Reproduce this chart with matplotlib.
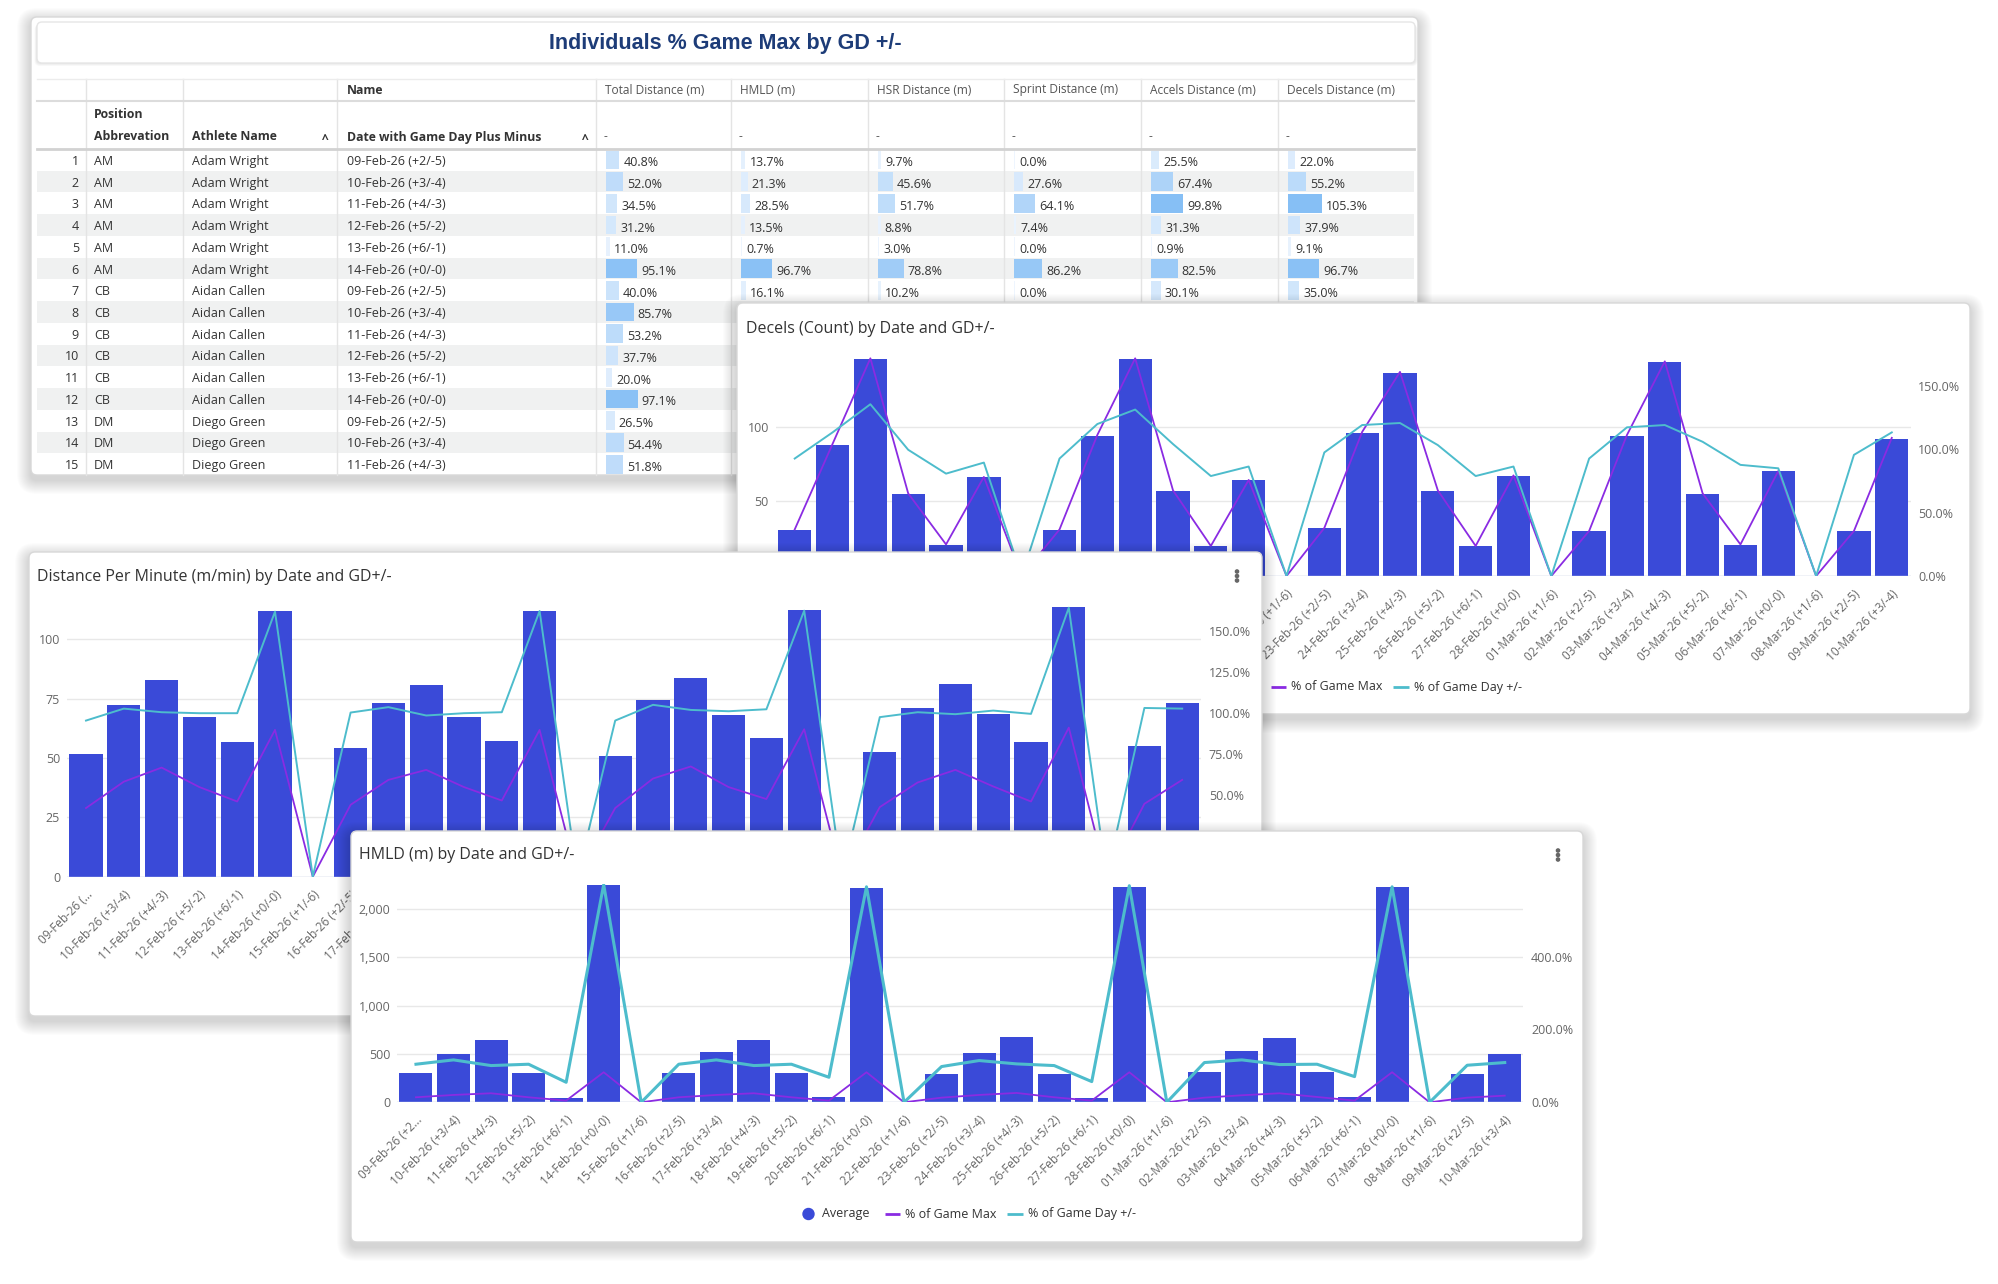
import numpy as np
import matplotlib
matplotlib.use('Agg')
import matplotlib.pyplot as plt
from matplotlib.patches import FancyBboxPatch, Rectangle, Circle
from matplotlib.ticker import FuncFormatter

plt.rcParams['font.family'] = ['Open Sans', 'DejaVu Sans']

W, H, DPI = 1999, 1284, 100

# ---------------- data ----------------
dates = ['09-Feb-26 (+2/-5)', '10-Feb-26 (+3/-4)', '11-Feb-26 (+4/-3)', '12-Feb-26 (+5/-2)',
         '13-Feb-26 (+6/-1)', '14-Feb-26 (+0/-0)', '15-Feb-26 (+1/-6)', '16-Feb-26 (+2/-5)',
         '17-Feb-26 (+3/-4)', '18-Feb-26 (+4/-3)', '19-Feb-26 (+5/-2)', '20-Feb-26 (+6/-1)',
         '21-Feb-26 (+0/-0)', '22-Feb-26 (+1/-6)', '23-Feb-26 (+2/-5)', '24-Feb-26 (+3/-4)',
         '25-Feb-26 (+4/-3)', '26-Feb-26 (+5/-2)', '27-Feb-26 (+6/-1)', '28-Feb-26 (+0/-0)',
         '01-Mar-26 (+1/-6)', '02-Mar-26 (+2/-5)', '03-Mar-26 (+3/-4)', '04-Mar-26 (+4/-3)',
         '05-Mar-26 (+5/-2)', '06-Mar-26 (+6/-1)', '07-Mar-26 (+0/-0)', '08-Mar-26 (+1/-6)',
         '09-Mar-26 (+2/-5)', '10-Mar-26 (+3/-4)']
first_label_short = '09-Feb-26 (...'
first_label_hmld = '09-Feb-26 (+2...'

decels_avg = [31, 88, 145, 55, 21, 66, 0, 31, 94, 145, 57, 20, 64, 0, 32, 96, 136, 57, 20, 67,
              0, 30, 94, 143, 55, 21, 70, 0, 30, 92]
decels_pct_max = [36.7, 104.1, 171.6, 65.1, 24.9, 78.1, 0, 36.7, 111.2, 171.6, 67.5, 23.7, 75.7, 0,
                  37.9, 113.6, 160.9, 67.5, 23.7, 79.3, 0, 35.5, 111.2, 169.2, 65.1, 24.9, 82.8, 0,
                  35.5, 108.9]
decels_pct_gd = [92.6, 113.2, 135.4, 99.5, 80.7, 89.4, 0, 92.6, 119.8, 131.2, 104.0, 78.8, 86.3, 0,
                 97.4, 119.0, 120.6, 103.2, 78.8, 86.3, 0, 92.6, 117.2, 119.0, 105.8, 87.6, 84.9, 0,
                 95.5, 113.2]

dpm_avg = [51.7, 72.2, 82.8, 67.4, 56.8, 111.7, 0, 54.2, 73.1, 80.6, 67.4, 57.0, 111.7, 0, 51.0,
           74.5, 83.6, 68.1, 58.3, 112.1, 0, 52.3, 71.0, 81.2, 68.6, 56.6, 113.4, 0, 55.1, 73.1]
dpm_pct_max = [41.9, 58.0, 66.6, 54.7, 45.9, 89.6, 0, 43.9, 59.1, 65.2, 54.7, 46.5, 89.6, 0, 41.9,
               59.9, 67.3, 54.7, 47.4, 90.0, 0, 42.5, 57.5, 65.2, 55.1, 45.9, 91.0, 0, 44.5, 59.1]
dpm_pct_gd = [95.3, 102.6, 100.4, 99.8, 99.8, 161.8, 0, 100.2, 103.5, 98.4, 99.8, 100.4, 162.2, 0,
              95.3, 104.9, 101.8, 101.0, 102.2, 162.4, 0, 97.4, 100.4, 99.2, 101.4, 99.4, 164.2, 0,
              103.0, 102.6]

hmld_avg = [307, 497, 645, 307, 48, 2248, 0, 307, 517, 645, 307, 59, 2214, 0, 290, 507, 679, 293,
            48, 2224, 0, 317, 528, 666, 317, 55, 2224, 0, 293, 497]
hmld_pct_max = [13.8, 20.2, 24.8, 13.8, 4.6, 82.6, 0, 13.8, 20.2, 24.8, 13.8, 4.6, 82.6, 0, 12.8,
                20.2, 25.7, 13.8, 4.6, 82.6, 0, 12.8, 19.3, 24.8, 14.7, 4.6, 82.6, 0, 12.8, 18.3]
hmld_pct_gd = [104.6, 116.5, 100.9, 104.6, 55.0, 598, 0, 104.6, 116.5, 100.9, 104.6, 68.8, 592, 0,
               98.2, 114.7, 105.5, 100.9, 56.9, 595, 0, 109.2, 116.5, 103.7, 104.6, 70.6, 592, 0,
               101.8, 109.2]

# table
tbl_title = 'Individuals % Game Max by GD +/-'
tbl_positions = ['AM', 'AM', 'AM', 'AM', 'AM', 'AM', 'CB', 'CB', 'CB', 'CB', 'CB', 'CB', 'DM', 'DM', 'DM']
tbl_athletes = ['Adam Wright'] * 6 + ['Aidan Callen'] * 6 + ['Diego Green'] * 3
tbl_dates = ['09-Feb-26 (+2/-5)', '10-Feb-26 (+3/-4)', '11-Feb-26 (+4/-3)', '12-Feb-26 (+5/-2)',
             '13-Feb-26 (+6/-1)', '14-Feb-26 (+0/-0)',
             '09-Feb-26 (+2/-5)', '10-Feb-26 (+3/-4)', '11-Feb-26 (+4/-3)', '12-Feb-26 (+5/-2)',
             '13-Feb-26 (+6/-1)', '14-Feb-26 (+0/-0)',
             '09-Feb-26 (+2/-5)', '10-Feb-26 (+3/-4)', '11-Feb-26 (+4/-3)']
tbl_measures = ['Total Distance (m)', 'HMLD (m)', 'HSR Distance (m)', 'Sprint Distance (m)',
                'Accels Distance (m)', 'Decels Distance (m)']
tbl_total = [40.8, 52.0, 34.5, 31.2, 11.0, 95.1, 40.0, 85.7, 53.2, 37.7, 20.0, 97.1, 26.5, 54.4, 51.8]
tbl_hmld = [13.7, 21.3, 28.5, 13.5, 0.7, 96.7, 16.1]
tbl_hsr = [9.7, 45.6, 51.7, 8.8, 3.0, 78.8, 10.2]
tbl_sprint = [0.0, 27.6, 64.1, 7.4, 0.0, 86.2, 0.0]
tbl_accels = [25.5, 67.4, 99.8, 31.3, 0.9, 82.5, 30.1]
tbl_decels = [22.0, 55.2, 105.3, 37.9, 9.1, 96.7, 35.0]

legend_labels = ['Average', '% of Game Max', '% of Game Day +/-']

# ---------------- style ----------------
BAR = '#3a4ad8'
PURPLE = '#8a2be2'
TEAL = '#4dbccc'
TXT = '#333333'
TICK = '#666666'

fig = plt.figure(figsize=(W / DPI, H / DPI), dpi=DPI)
fig.patch.set_facecolor('white')


def overlay(z):
    ax = fig.add_axes([0, 0, 1, 1])
    ax.set_xlim(0, W)
    ax.set_ylim(H, 0)
    ax.axis('off')
    ax.set_zorder(z)
    return ax


def panel(ax, x0, y0, x1, y1, r=6):
    for s in range(14, 0, -1):
        ax.add_patch(FancyBboxPatch((x0 - s, y0 - s + 5), (x1 - x0) + 2 * s, (y1 - y0) + 2 * s,
                                    boxstyle='round,pad=0,rounding_size=%g' % (r + s),
                                    fc='black', ec='none', alpha=0.011, clip_on=False))
    ax.add_patch(FancyBboxPatch((x0, y0), x1 - x0, y1 - y0,
                                boxstyle='round,pad=0,rounding_size=%g' % r,
                                fc='white', ec='#d8d8d8', lw=1, clip_on=False))


def dots(ax, x, y):
    for dy in (-4.5, 0, 4.5):
        ax.add_patch(Circle((x, y + dy), 1.6, color='#666666'))


def legend(ax, cx, cy):
    ax.add_patch(Circle((cx - 158.5, cy), 5.5, color=BAR))
    ax.text(cx - 145, cy, legend_labels[0], va='center', ha='left', fontsize=9, color=TXT)
    ax.plot([cx - 82, cx - 67], [cy, cy], color=PURPLE, lw=2, solid_capstyle='butt')
    ax.text(cx - 62, cy, legend_labels[1], va='center', ha='left', fontsize=9, color=TXT)
    ax.plot([cx + 40, cx + 56], [cy, cy], color=TEAL, lw=2, solid_capstyle='butt')
    ax.text(cx + 61, cy, legend_labels[2], va='center', ha='left', fontsize=9, color=TXT)


def chart(z, box, bars, pmax, pgd, yl, ytl, yr, ytr, lfmt, labels, teal_lw=1.4):
    l, t, r, b = box
    ax = fig.add_axes([l / W, 1 - b / H, (r - l) / W, (b - t) / H])
    ax.set_zorder(z)
    ax.patch.set_visible(False)
    x = np.arange(len(bars))
    ax.bar(x, bars, width=0.88, color=BAR, zorder=2)
    ax.set_xlim(-0.5, len(bars) - 0.5)
    ax.set_ylim(*yl)
    ax.set_yticks(ytl)
    ax.yaxis.set_major_formatter(FuncFormatter(lfmt))
    ax.grid(axis='y', color='#e8e8e8', lw=1)
    ax.set_axisbelow(True)
    for s in ax.spines.values():
        s.set_visible(False)
    ax.axhline(0, color='#ccd6eb', lw=1, zorder=3)
    ax.set_xticks(x)
    ax.set_xticklabels(labels, rotation=45, ha='right', rotation_mode='anchor',
                       fontsize=8.5, color=TICK)
    ax.tick_params(axis='both', length=0)
    ax.tick_params(axis='x', pad=8)
    ax.tick_params(axis='y', pad=5, labelsize=9, labelcolor=TICK)
    ax2 = ax.twinx()
    ax2.set_zorder(z + 1)
    ax2.patch.set_visible(False)
    ax2.plot(x, pmax, color=PURPLE, lw=1.3, zorder=4)
    ax2.plot(x, pgd, color=TEAL, lw=teal_lw, zorder=5)
    ax2.set_ylim(*yr)
    ax2.set_yticks(ytr)
    ax2.yaxis.set_major_formatter(FuncFormatter(lambda v, p: '%.1f%%' % v))
    for s in ax2.spines.values():
        s.set_visible(False)
    ax2.tick_params(axis='y', length=0, pad=5.5, labelsize=9, labelcolor=TICK)
    return ax, ax2


# ---------------- table panel ----------------
tb = overlay(1)
panel(tb, 31, 17, 1418, 475)
for s in range(5, 0, -1):
    tb.add_patch(FancyBboxPatch((37 - s * 0.5, 22 + s * 0.6), 1378 + s, 41,
                                boxstyle='round,pad=0,rounding_size=5', fc='black', ec='none',
                                alpha=0.02))
tb.add_patch(FancyBboxPatch((37, 22), 1378, 41, boxstyle='round,pad=0,rounding_size=5',
                            fc='white', ec='#e6e6e6', lw=1))
tb.text(725, 44, tbl_title, ha='center', va='center', fontsize=15.5, fontweight='bold',
        color='#1d3c78', family=['Liberation Sans', 'DejaVu Sans'])

cols = [37, 86, 183, 337, 596, 731, 868, 1004, 1141, 1278, 1414]
row_top0 = 149
row_h = (475 - 149) / 15.0
nrows = len(tbl_positions)
for i in range(nrows):
    if i % 2 == 1:
        tb.add_patch(Rectangle((cols[0], row_top0 + i * row_h), cols[-1] - cols[0], row_h,
                               fc='#f0f1f1', ec='none'))
for c in cols[1:-1]:
    tb.plot([c, c], [79, 475], color='#e4e4e4', lw=1)
tb.plot([cols[0], cols[-1]], [79, 79], color='#ececec', lw=1)
tb.plot([cols[0], cols[-1]], [101, 101], color='#dcdcdc', lw=1.5)
tb.plot([cols[0], cols[-1]], [149, 149], color='#d2d2d2', lw=2)

HF = 8.8
tb.text(347, 90, 'Name', fontsize=HF, fontweight='bold', color=TXT, va='center')
tb.text(94, 115, 'Position', fontsize=HF, fontweight='bold', color=TXT, va='center')
tb.text(94, 137, 'Abbrevation', fontsize=HF, fontweight='bold', color=TXT, va='center')
tb.text(192, 137, 'Athlete Name', fontsize=HF, fontweight='bold', color=TXT, va='center')
tb.text(325, 139, '^', fontsize=HF, fontweight='bold', color=TXT, va='center', ha='center')
tb.text(347, 137, 'Date with Game Day Plus Minus', fontsize=HF, fontweight='bold', color=TXT,
        va='center')
tb.text(585, 139, '^', fontsize=HF, fontweight='bold', color=TXT, va='center', ha='center')
for j, m in enumerate(tbl_measures):
    tb.text(cols[4 + j] + 9, 90, m, fontsize=8.6, color='#555555', va='center')
    tb.text(cols[4 + j] + 8, 137, '-', fontsize=8.6, color='#555555', va='center')

DF = 9
for i in range(nrows):
    yc = row_top0 + (i + 0.5) * row_h
    tb.text(79, yc + 1.5, str(i + 1), fontsize=DF, color=TXT, va='center', ha='right')
    tb.text(94, yc + 1.5, tbl_positions[i], fontsize=DF, color=TXT, va='center')
    tb.text(192, yc + 1.5, tbl_athletes[i], fontsize=DF, color=TXT, va='center')
    tb.text(347, yc + 1.5, tbl_dates[i], fontsize=DF, color=TXT, va='center')

lo = np.array([0xee, 0xf5, 0xfe]) / 255.0
hi = np.array([0x86, 0xbf, 0xf5]) / 255.0
for j, vals in enumerate([tbl_total, tbl_hmld, tbl_hsr, tbl_sprint, tbl_accels, tbl_decels]):
    x0 = cols[4 + j] + 10
    for i, v in enumerate(vals):
        top = row_top0 + i * row_h
        t = min(v / 100.0, 1.0) ** 1.2
        col = lo + (hi - lo) * t
        w = v * 0.325
        tb.add_patch(Rectangle((x0, top + 1.5), max(w, 1.2), row_h - 3, fc=col, ec='none'))
        tb.text(x0 + max(w, 1.2) + 4, top + row_h / 2 + 3, '%.1f%%' % v, fontsize=DF,
                color=TXT, va='center')

# ---------------- Decels panel ----------------
pd_ = overlay(20)
panel(pd_, 737, 303, 1970, 714)
pd_.text(746, 329, 'Decels (Count) by Date and GD+/-', fontsize=11.5, color=TXT, va='center')
legend(pd_, 1353.5, 687)
chart(21, (775.8, 353.5, 1910.7, 576), decels_avg, decels_pct_max, decels_pct_gd,
      (0, 149), [0, 50, 100], (0, 175.4), [0, 50, 100, 150],
      lambda v, p: '%d' % v, [first_label_short] + dates[1:])

# ---------------- Distance per minute panel ----------------
pm = overlay(30)
panel(pm, 29, 552, 1262, 1016)
pm.text(37, 577, 'Distance Per Minute (m/min) by Date and GD+/-', fontsize=11.5, color=TXT,
        va='center')
dots(pm, 1237, 576)
legend(pm, 645.5, 989)
chart(31, (67.1, 600, 1201.1, 876.7), dpm_avg, dpm_pct_max, dpm_pct_gd,
      (0, 116.5), [0, 25, 50, 75, 100], (0, 168.9), [0, 25, 50, 75, 100, 125, 150],
      lambda v, p: '%d' % v, [first_label_short] + dates[1:])

# ---------------- HMLD panel ----------------
ph = overlay(40)
panel(ph, 351, 831, 1583, 1242)
ph.text(359, 855, 'HMLD (m) by Date and GD+/-', fontsize=11.5, color=TXT, va='center')
dots(ph, 1558, 855)
legend(ph, 967, 1214)
chart(41, (397.2, 883.9, 1523.5, 1102.3), hmld_avg, hmld_pct_max, hmld_pct_gd,
      (0, 2260), [0, 500, 1000, 1500, 2000], (0, 600), [0, 200, 400],
      lambda v, p: '{:,.0f}'.format(v), [first_label_hmld] + dates[1:], teal_lw=2.2)

fig.savefig('out.png', dpi=DPI)
